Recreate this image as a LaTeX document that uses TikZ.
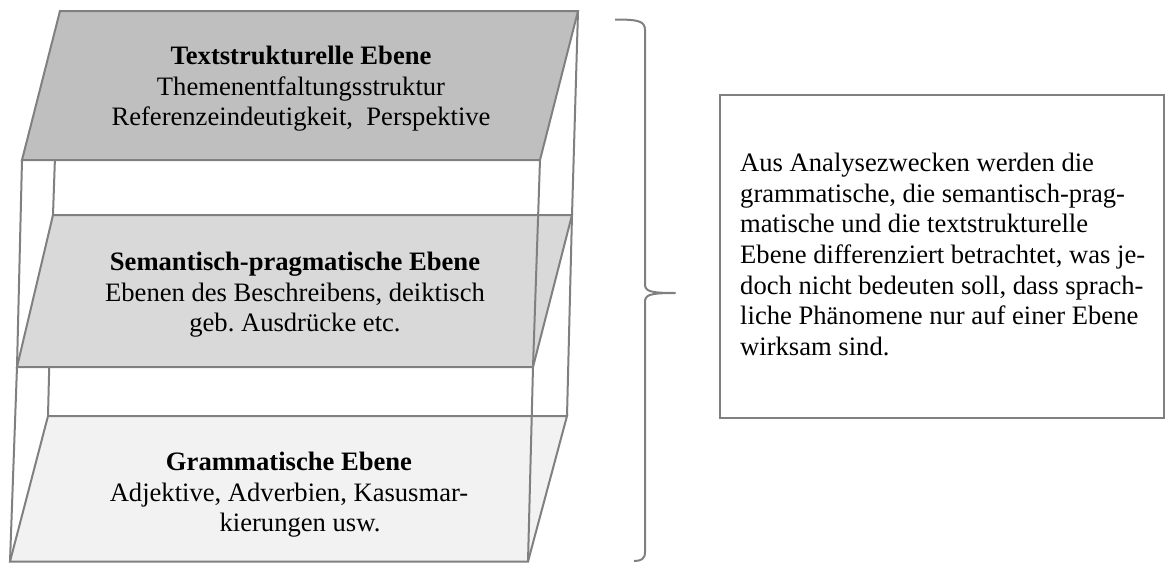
\documentclass[tikz,border=0pt]{standalone}
\usepackage{fontspec}
\setmainfont{Liberation Serif}
\frenchspacing
\definecolor{linegray}{HTML}{808080}
\definecolor{fillA}{HTML}{BFBFBF}
\definecolor{fillB}{HTML}{D9D9D9}
\definecolor{fillC}{HTML}{F2F2F2}
\begin{document}
\begin{tikzpicture}[x=1pt,y=-1pt,
  edge/.style={draw=linegray, line width=2pt, line join=miter},
  plane/.style={edge},
  txt/.style={font=\fontsize{26.6}{30.6}\selectfont, inner sep=0pt, align=center, text=black},
  boxtxt/.style={font=\fontsize{26.6}{30.6}\selectfont, inner sep=0pt, align=left, text=black}]
\useasboundingbox (0,0) rectangle (1166,563);
% corners of the three planes
\coordinate (aTL) at (60,11);  \coordinate (aTR) at (578,11);
\coordinate (aBR) at (540,160); \coordinate (aBL) at (22,160);
\coordinate (bTL) at (53,215); \coordinate (bTR) at (572,215);
\coordinate (bBR) at (533,367); \coordinate (bBL) at (17,367);
\coordinate (cTL) at (48,416); \coordinate (cTR) at (567,416);
\coordinate (cBR) at (528,561.5); \coordinate (cBL) at (10,561.5);
% back edges (hidden behind the planes)
\draw[edge] (aTL) -- (bTL) -- (cTL);
\draw[edge] (aTR) -- (bTR) -- (cTR);
% planes
\draw[plane, fill=fillA] (aTL) -- (aTR) -- (aBR) -- (aBL) -- cycle;
\draw[plane, fill=fillB] (bTL) -- (bTR) -- (bBR) -- (bBL) -- cycle;
\draw[plane, fill=fillC] (cTL) -- (cTR) -- (cBR) -- (cBL) -- cycle;
% front edges
\draw[edge] (aBL) -- (bBL) -- (cBL);
\draw[edge] (aBR) -- (bBR) -- (cBR);
% texts in the planes
\node[txt] (ta) at (301,89) {\textbf{Textstrukturelle Ebene}\\Themenentfaltungsstruktur\\Referenzeindeutigkeit,\ \ Perspektive};
\node[txt] (tb) at (295,295) {\textbf{Semantisch-pragmatische Ebene}\\Ebenen des Beschreibens, deiktisch\\geb. Ausdrücke etc.};
\node[txt] (tc) at (289,495) {\textbf{Grammatische Ebene}\\Adjektive, Adverbien, Kasusmar-\\\hspace*{22pt}kierungen usw.};
% brace
\coordinate (brTop) at (615,19.5);
\coordinate (brTip) at (675,293);
\coordinate (brBot) at (634,561);
\draw[edge, line join=round] (brTop) .. controls (638,19.5) and (645,21) .. (645,30)
  -- (645,284) .. controls (645,291) and (649,293) .. (brTip)
  .. controls (649,293) and (645,295) .. (645,302)
  -- (645,552) .. controls (645,559) and (641,561) .. (brBot);
% explanation box
\draw[edge] (720,95) rectangle (1164,418);
\node[boxtxt, anchor=north west] (expl) at (740,153) {Aus Analysezwecken werden die\\grammatische, die semantisch-prag-\\matische und die textstrukturelle\\Ebene differenziert betrachtet, was je-\\doch nicht bedeuten soll, dass sprach-\\liche Phänomene nur auf einer Ebene\\wirksam sind.};
\end{tikzpicture}
\end{document}
